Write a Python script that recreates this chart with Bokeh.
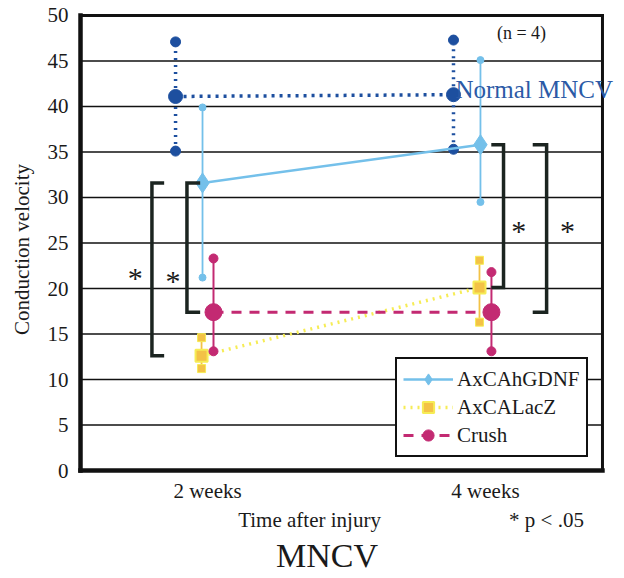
import math
from bokeh.plotting import figure
from bokeh.models import ColumnDataSource, Legend, LegendItem, Label, Range1d
from bokeh.transform import dodge
from bokeh.core.properties import value
from bokeh.embed import file_html
from bokeh.resources import INLINE

# ---------------- data ----------------
weeks = [2, 4]
week_labels = ["2 weeks", "4 weeks"]
y_ticks = [0, 5, 10, 15, 20, 25, 30, 35, 40, 45, 50]
y_tick_labels = [str(t) for t in y_ticks]

normal_mean = [41.1, 41.3]
normal_upper = [47.1, 47.3]
normal_lower = [35.1, 35.3]

gdnf_mean = [31.6, 35.8]
gdnf_upper = [39.9, 45.1]
gdnf_lower = [21.2, 29.5]

lacz_mean = [12.6, 20.1]
lacz_upper = [14.6, 23.1]
lacz_lower = [11.2, 16.3]

crush_mean = [17.4, 17.4]
crush_upper = [23.3, 21.8]
crush_lower = [13.1, 13.1]

series_names = ["AxCAhGDNF", "AxCALacZ", "Crush"]

# significance brackets: (week index, series a mean list, series b mean list)
sig_pairs = [(0, gdnf_mean, lacz_mean), (0, gdnf_mean, crush_mean),
             (1, gdnf_mean, lacz_mean), (1, gdnf_mean, crush_mean)]

# ---------------- style / layout ----------------
FONT = "Liberation Serif"
TXT = "#1a1a1a"
LINE = "#111111"
NORMAL_C = "#1d4f9f"
GDNF_C = "#74c0ea"
LACZ_LINE = "#f6ec55"
LACZ_MARK = "#f3c246"
CRUSH_C = "#c32a72"

# plotting-area bounds (in data units) inside a frame that fills the whole canvas
PX0, PX1 = 1.086, 4.842
PY0, PY1 = 0, 50

p = figure(width=620, height=576, x_range=Range1d(0.5103, 4.9717), y_range=Range1d(-11.648, 51.648),
           output_backend="svg", toolbar_location=None,
           x_axis_location=None, y_axis_location=None,
           min_border=0, min_border_left=0, min_border_right=0,
           min_border_top=0, min_border_bottom=0)
p.background_fill_color = "white"
p.border_fill_color = "white"
p.outline_line_color = None
p.xgrid.visible = False
p.ygrid.visible = False

# horizontal grid lines, from the tick list
n_t = len(y_ticks)
p.segment(x0=[PX0] * n_t, x1=[PX1] * n_t, y0=y_ticks, y1=y_ticks,
          line_color=LINE, line_width=1.5)
# plot border
p.segment(x0=[PX0, PX0], y0=[PY0, PY0], x1=[PX0, PX1], y1=[PY1, PY0],
          line_color=LINE, line_width=4.5, line_cap="square")
p.segment(x0=[PX0, PX1], y0=[PY1, PY0], x1=[PX1, PX1], y1=[PY1, PY1],
          line_color=LINE, line_width=3, line_cap="square")

# tick labels
p.text(x=[1.0] * n_t, y=y_ticks, text=y_tick_labels, text_font=value(FONT),
       text_font_size="21px", text_color=TXT, text_align="right", text_baseline="middle")
p.text(x=weeks, y=[-2.2] * len(weeks), text=week_labels, text_font=value(FONT),
       text_font_size="21px", text_color=TXT, text_align="center", text_baseline="middle")

def src(mean, upper, lower):
    return ColumnDataSource(dict(x=weeks, mean=mean, upper=upper, lower=lower))

s_norm = src(normal_mean, normal_upper, normal_lower)
s_gdnf = src(gdnf_mean, gdnf_upper, gdnf_lower)
s_lacz = src(lacz_mean, lacz_upper, lacz_lower)
s_crush = src(crush_mean, crush_upper, crush_lower)

d_norm, d_gdnf, d_lacz, d_crush = -0.23, -0.036, -0.043, 0.043

# Normal MNCV
xn = dodge("x", d_norm)
p.segment(x0=xn, y0="lower", x1=xn, y1="upper", source=s_norm,
          line_color=NORMAL_C, line_width=3.5, line_dash="2 5")
p.line(x=xn, y="mean", source=s_norm, line_color=NORMAL_C, line_width=3.5, line_dash="3 5")
p.scatter(x=xn, y="upper", source=s_norm, size=10, color=NORMAL_C)
p.scatter(x=xn, y="lower", source=s_norm, size=10, color=NORMAL_C)
p.scatter(x=xn, y="mean", source=s_norm, size=14, color=NORMAL_C)

# GDNF
xg = dodge("x", d_gdnf)
p.segment(x0=xg, y0="lower", x1=xg, y1="upper", source=s_gdnf, line_color=GDNF_C, line_width=1.8)
r_g_line = p.line(x=xg, y="mean", source=s_gdnf, line_color=GDNF_C, line_width=2.5)
p.scatter(x=xg, y="upper", source=s_gdnf, size=7, color=GDNF_C)
p.scatter(x=xg, y="lower", source=s_gdnf, size=7, color=GDNF_C)
r_g_mark = p.scatter(x=xg, y="mean", source=s_gdnf, size=20, marker="diamond",
                     fill_color=GDNF_C, line_color=GDNF_C)

# LacZ
xl = dodge("x", d_lacz)
r_l_line = p.line(x=xl, y="mean", source=s_lacz, line_color=LACZ_LINE, line_width=3.5, line_dash="2 5")
p.segment(x0=xl, y0="lower", x1=xl, y1="upper", source=s_lacz, line_color=LACZ_MARK, line_width=1.8)
p.scatter(x=xl, y="upper", source=s_lacz, size=8, marker="square", fill_color=LACZ_MARK, line_color=LACZ_LINE)
p.scatter(x=xl, y="lower", source=s_lacz, size=8, marker="square", fill_color=LACZ_MARK, line_color=LACZ_LINE)
r_l_mark = p.scatter(x=xl, y="mean", source=s_lacz, size=12, marker="square",
                     fill_color=LACZ_MARK, line_color=LACZ_LINE, line_width=2)

# Crush
xc = dodge("x", d_crush)
r_c_line = p.line(x=xc, y="mean", source=s_crush, line_color=CRUSH_C, line_width=3, line_dash="10 8")
p.segment(x0=xc, y0="lower", x1=xc, y1="upper", source=s_crush, line_color=CRUSH_C, line_width=2)
p.scatter(x=xc, y="upper", source=s_crush, size=9, color=CRUSH_C)
p.scatter(x=xc, y="lower", source=s_crush, size=9, color=CRUSH_C)
r_c_mark = p.scatter(x=xc, y="mean", source=s_crush, size=17, color=CRUSH_C)

# significance brackets
br_x = [-0.40, -0.148, 0.13, 0.44]       # vertical bar offset from week
br_tick = [0.088, 0.095, -0.088, -0.1]   # tick length/direction
ast_dx = [-0.12, -0.10, 0.11, 0.15]
ast_y = [22.0, 21.6, 27.1, 27.1]
bxs, bys = [], []
for (wi, a, b), bx, bt, adx, ay in zip(sig_pairs, br_x, br_tick, ast_dx, ast_y):
    w = weeks[wi]
    xv = w + bx
    bxs.append([xv + bt, xv, xv, xv + bt])
    bys.append([a[wi], a[wi], b[wi], b[wi]])
    p.text(x=[xv + adx], y=[ay], text=["*"], text_font=value(FONT), text_font_size="30px",
           text_align="center", text_baseline="middle", text_color=TXT, y_offset=7)
p.multi_line(xs=bxs, ys=bys, line_color="#1b2420", line_width=3.5, line_join="miter")

# texts
def label(x, y, text, size, align="center", baseline="middle", color=TXT, angle=0):
    p.add_layout(Label(x=x, y=y, text=text, text_font=FONT, text_font_size=size,
                       text_align=align, text_baseline=baseline, text_color=color, angle=angle))

label(4.259, 48.13, "(n = 4)", "18px")
label(3.784, 41.87, "Normal MNCV", "25px", align="left", color="#2b5aa6")
label(0.662, 24.29, "Conduction velocity", "21px", angle=math.pi / 2)
label(2.734, -5.49, "Time after injury", "21px")
label(4.439, -5.49, "* p < .05", "21px")
label(2.86, -9.29, "MNCV", "34px")

legend = Legend(items=[LegendItem(label=series_names[0], renderers=[r_g_line, r_g_mark]),
                       LegendItem(label=series_names[1], renderers=[r_l_line, r_l_mark]),
                       LegendItem(label=series_names[2], renderers=[r_c_line, r_c_mark])],
                location=(395, 119))
legend.border_line_color = "#111111"
legend.border_line_width = 2
legend.border_line_alpha = 1
legend.background_fill_color = "white"
legend.background_fill_alpha = 1
legend.label_text_font = FONT
legend.label_text_font_size = "21px"
legend.label_text_color = TXT
legend.glyph_width = 50
legend.glyph_height = 28
legend.label_height = 28
legend.label_standoff = 4
legend.spacing = 0
legend.padding = 6
legend.margin = 0
p.add_layout(legend)

open("out.html", "w").write(file_html(p, INLINE))
